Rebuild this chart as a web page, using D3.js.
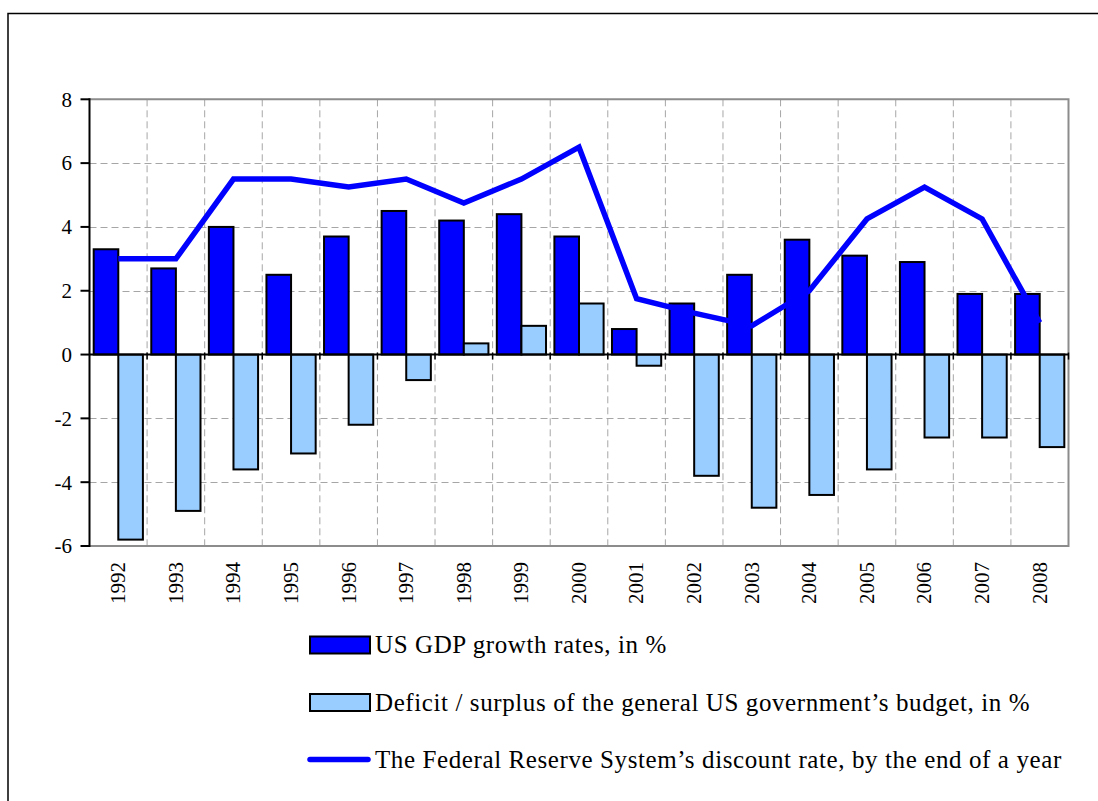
<!DOCTYPE html>
<html>
<head>
<meta charset="utf-8">
<script src="https://cdn.jsdelivr.net/npm/d3@7"></script>
<style>
  html, body { margin: 0; padding: 0; background: #fff; }
  svg { display: block; }
  svg text { font-family: "Liberation Serif", "Times New Roman", serif; }
</style>
</head>
<body>
<svg id="chart" width="1098" height="801"></svg>
<script>
// Years on the category axis
const years = ["1992","1993","1994","1995","1996","1997","1998","1999","2000",
               "2001","2002","2003","2004","2005","2006","2007","2008"];
// US GDP growth, %
const gdpGrowth = [3.3, 2.7, 4.0, 2.5, 3.7, 4.5, 4.2, 4.4, 3.7, 0.8, 1.6, 2.5, 3.6, 3.1, 2.9, 1.9, 1.9];
// General government budget balance, % (negative = deficit)
const budgetBalance = [-5.8, -4.9, -3.6, -3.1, -2.2, -0.8, 0.35, 0.9, 1.6, -0.35, -3.8, -4.8, -4.4, -3.6, -2.6, -2.6, -2.9];
// Fed discount rate at year end, %
const discountRate = [3.0, 3.0, 5.5, 5.5, 5.25, 5.5, 4.75, 5.5, 6.5, 1.75, 1.3, 0.9, 2.0, 4.25, 5.25, 4.25, 1.0];
// Value axis ticks
const yTicks = [-6, -4, -2, 0, 2, 4, 6, 8];

const seriesNames = [
  "US GDP growth rates, in %",
  "Deficit / surplus of the general US government\u2019s budget, in %",
  "The Federal Reserve System\u2019s discount rate, by the end of a year"
];

const FONT = "'Liberation Serif', 'Times New Roman', serif";
const svg = d3.select("#chart");
const plot = { left: 89.5, right: 1068.5, top: 99.3, bottom: 546 };

const x = d3.scaleBand().domain(years).range([plot.left, plot.right]).padding(0);
const x1 = d3.scaleBand().domain(["gdp", "budget"]).range([0, x.bandwidth()])
  .paddingInner(0).paddingOuter(0.17);
const y = d3.scaleLinear().domain([-6, 8]).range([plot.bottom, plot.top]);

// Outer frame
svg.append("path")
  .attr("d", "M8,801 V13.5 H1098")
  .attr("fill", "none").attr("stroke", "#000").attr("stroke-width", 1.5);

// Dashed gridlines
const grid = svg.append("g").attr("stroke", "#a6a6a6").attr("stroke-width", 1)
  .attr("stroke-dasharray", "7,4").attr("fill", "none");
grid.selectAll("line.h").data(yTicks.filter(d => d > -6 && d < 8 && d !== 0))
  .join("line").attr("class", "h")
  .attr("x1", plot.left).attr("x2", plot.right)
  .attr("y1", d => Math.round(y(d)) + 0.5).attr("y2", d => Math.round(y(d)) + 0.5);
grid.selectAll("line.v").data(years.slice(1))
  .join("line").attr("class", "v")
  .attr("x1", d => x(d)).attr("x2", d => x(d))
  .attr("y1", plot.top).attr("y2", plot.bottom);

// Plot frame: top, right, bottom in grey
svg.append("path")
  .attr("d", `M${plot.left},${plot.top} H${plot.right} V${plot.bottom} H${plot.left}`)
  .attr("fill", "none").attr("stroke", "#8c8c8c").attr("stroke-width", 2);

// Bars
const bars = svg.append("g").attr("stroke", "#000").attr("stroke-width", 2);
bars.selectAll("rect.gdp").data(gdpGrowth).join("rect").attr("class", "gdp")
  .attr("x", (d, i) => x(years[i]) + x1("gdp"))
  .attr("width", x1.bandwidth())
  .attr("y", d => y(Math.max(0, d)))
  .attr("height", d => Math.abs(y(d) - y(0)))
  .attr("fill", "#0000ff");
bars.selectAll("rect.budget").data(budgetBalance).join("rect").attr("class", "budget")
  .attr("x", (d, i) => x(years[i]) + x1("budget"))
  .attr("width", x1.bandwidth())
  .attr("y", d => y(Math.max(0, d)))
  .attr("height", d => Math.abs(y(d) - y(0)))
  .attr("fill", "#99ccff");

// Value axis on the left
const yAxis = svg.append("g");
yAxis.append("line")
  .attr("x1", plot.left).attr("x2", plot.left)
  .attr("y1", plot.top - 1).attr("y2", plot.bottom + 1)
  .attr("stroke", "#000").attr("stroke-width", 2);
yAxis.selectAll("line.tick").data(yTicks).join("line").attr("class", "tick")
  .attr("x1", plot.left - 9).attr("x2", plot.left)
  .attr("y1", d => y(d)).attr("y2", d => y(d))
  .attr("stroke", "#000").attr("stroke-width", 2);
yAxis.selectAll("text").data(yTicks).join("text")
  .attr("x", 72).attr("y", d => y(d)).attr("dy", "0.35em")
  .attr("text-anchor", "end").attr("font-family", FONT)
  .attr("font-size", 21).attr("fill", "#000")
  .text(d => d);

// Category axis crossing at zero
const xAxis = svg.append("g");
xAxis.append("line")
  .attr("x1", plot.left).attr("x2", plot.right)
  .attr("y1", y(0)).attr("y2", y(0))
  .attr("stroke", "#000").attr("stroke-width", 2);
xAxis.selectAll("line.tick").data(years.slice(1).concat(["end"])).join("line").attr("class", "tick")
  .attr("x1", d => d === "end" ? plot.right : x(d))
  .attr("x2", d => d === "end" ? plot.right : x(d))
  .attr("y1", y(0) - 2).attr("y2", y(0) + 5)
  .attr("stroke", "#000").attr("stroke-width", 1.5);

// Year labels below the plot
svg.append("g").selectAll("text").data(years).join("text")
  .attr("transform", d => `translate(${x(d) + x.bandwidth() / 2 - 0.5},562) rotate(-90)`)
  .attr("dy", "0.35em").attr("text-anchor", "end").attr("font-family", FONT)
  .attr("font-size", 21).attr("fill", "#000")
  .text(d => d);

// Discount rate line
const line = d3.line()
  .x((d, i) => x(years[i]) + x.bandwidth() / 2)
  .y(d => y(d));
svg.append("path").datum(discountRate)
  .attr("d", line)
  .attr("fill", "none").attr("stroke", "#0000ff").attr("stroke-width", 5.5)
  .attr("stroke-linejoin", "miter").attr("stroke-linecap", "butt");

// Legend
const legend = svg.append("g");
const rowY = [645, 702.5, 759.5];
legend.append("rect").attr("x", 310).attr("y", rowY[0] - 8.5).attr("width", 60).attr("height", 17)
  .attr("fill", "#0000ff").attr("stroke", "#000").attr("stroke-width", 2);
legend.append("rect").attr("x", 310).attr("y", rowY[1] - 8.5).attr("width", 60).attr("height", 17)
  .attr("fill", "#99ccff").attr("stroke", "#000").attr("stroke-width", 2);
legend.append("line").attr("x1", 310).attr("x2", 368).attr("y1", rowY[2]).attr("y2", rowY[2])
  .attr("stroke", "#0000ff").attr("stroke-width", 5.5).attr("stroke-linecap", "round");
legend.selectAll("text").data(seriesNames).join("text")
  .attr("x", 375).attr("y", (d, i) => rowY[i] + 8)
  .attr("font-family", FONT).attr("font-size", 25).attr("letter-spacing", 0.6)
  .attr("fill", "#000")
  .text(d => d);
</script>
</body>
</html>
